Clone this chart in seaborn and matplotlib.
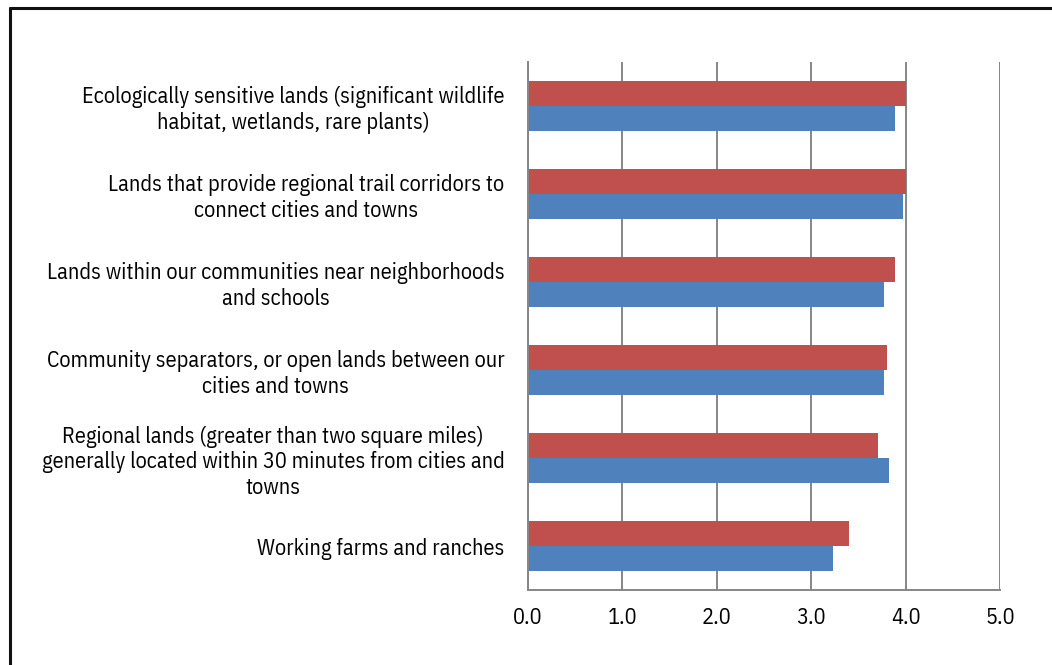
import matplotlib
matplotlib.use("Agg")
import matplotlib.pyplot as plt
from matplotlib.lines import Line2D
import seaborn as sns
import pandas as pd

categories = [
    "Ecologically sensitive lands (significant wildlife\nhabitat, wetlands, rare plants)",
    "Lands that provide regional trail corridors to\nconnect cities and towns",
    "Lands within our communities near neighborhoods\nand schools",
    "Community separators, or open lands between our\ncities and towns",
    "Regional lands (greater than two square miles)\ngenerally located within 30 minutes from cities and\ntowns",
    "Working farms and ranches",
]
series_names = ["Series 2", "Series 1"]
red_values = [4.00, 4.00, 3.89, 3.80, 3.71, 3.40]
blue_values = [3.89, 3.97, 3.77, 3.77, 3.82, 3.23]
x_ticks = [0.0, 1.0, 2.0, 3.0, 4.0, 5.0]
x_tick_labels = ["0.0", "1.0", "2.0", "3.0", "4.0", "5.0"]

red = "#C0504D"
blue = "#4F81BD"
grid_c = "#868686"

df = pd.DataFrame({
    "category": categories * 2,
    "series": [series_names[0]] * len(categories) + [series_names[1]] * len(categories),
    "value": red_values + blue_values,
})

sns.set_theme(style="white")
plt.rcParams["font.family"] = ["IBM Plex Sans Condensed", "Liberation Sans Narrow", "DejaVu Sans"]

fig = plt.figure(figsize=(10.52, 6.65), dpi=100)
ax = fig.add_axes([528 / 1052, 1 - 590 / 665, (1000 - 528) / 1052, (590 - 62) / 665])

sns.barplot(data=df, y="category", x="value", hue="series", order=categories,
            hue_order=series_names, palette=[red, blue], width=0.57,
            orient="h", ax=ax, legend=False, saturation=1, linewidth=0)

ax.set_xlim(0, 5)
ax.set_xticks(x_ticks)
ax.set_xticklabels(x_tick_labels, fontsize=16, color="#000000")
ax.set_xlabel("")
ax.set_ylabel("")
ax.xaxis.grid(True, color=grid_c, linewidth=1.4)
ax.yaxis.grid(False)
ax.set_axisbelow(True)
for s in ["top", "right"]:
    ax.spines[s].set_visible(False)
for s in ["left", "bottom"]:
    ax.spines[s].set_color(grid_c)
    ax.spines[s].set_linewidth(1.4)
ax.tick_params(axis="x", length=0, pad=12)
ax.tick_params(axis="y", length=0, pad=17)
for lbl in ax.get_yticklabels():
    lbl.set_fontsize(16)
    lbl.set_color("#000000")
    lbl.set_horizontalalignment("right")
    lbl.set_multialignment("center")
    lbl.set_linespacing(1.2)

fig.add_artist(Line2D([10 / 1052, 10 / 1052], [0, 1 - 8 / 665], transform=fig.transFigure,
                      color="#111111", linewidth=2.2))
fig.add_artist(Line2D([10 / 1052, 1.0], [1 - 8 / 665, 1 - 8 / 665], transform=fig.transFigure,
                      color="#111111", linewidth=2.2))

fig.savefig("out.png", dpi=100)
